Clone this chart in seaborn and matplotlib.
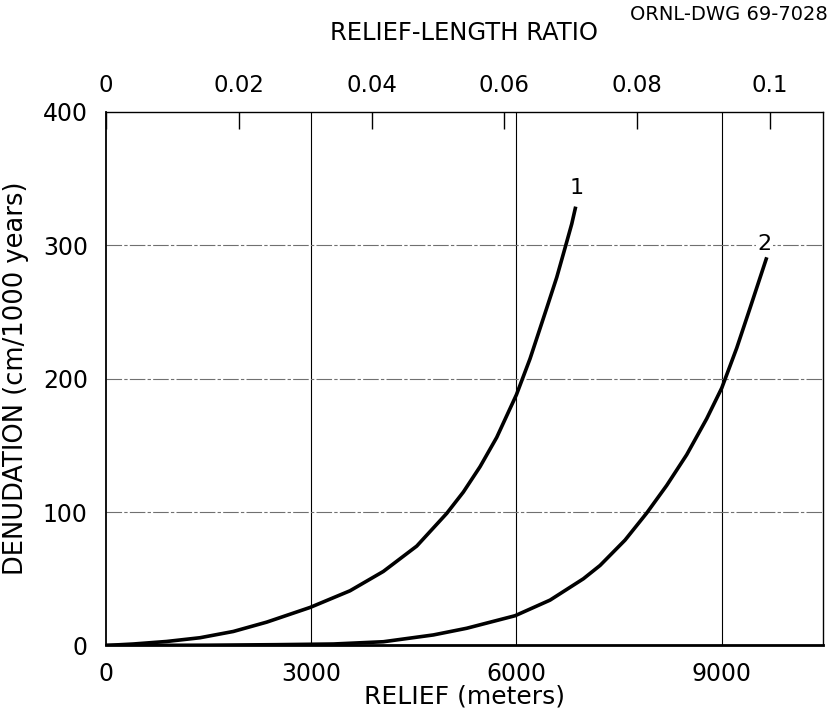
import matplotlib
matplotlib.use("Agg")
import matplotlib.pyplot as plt
import seaborn as sns
import pandas as pd

# Curve 1 (relief in m, denudation in cm/1000 yr)
relief_1 = [0, 402, 889, 1376, 1863, 2351, 2984, 3568, 4055, 4543, 4981,
            5224, 5468, 5712, 6000, 6199, 6443, 6589, 6710, 6808, 6866]
denud_1 = [0, 1.1, 3.0, 5.8, 10.5, 17.5, 28.5, 41, 55.5, 74.5, 99,
           115, 134, 156, 188, 215, 253, 276, 298, 316, 329]
# Curve 2
relief_2 = [0, 1500, 2500, 3325, 4055, 4786, 5273, 5980, 6491, 6978, 7222, 7587,
            7904, 8196, 8488, 8780, 9000, 9219, 9414, 9658]
denud_2 = [0, 0.2, 0.6, 1.1, 2.8, 7.9, 12.9, 22.3, 34, 50, 60, 79,
           99.3, 120, 143, 170, 193, 223, 253, 291]

x_ticks = [0, 3000, 6000, 9000]
y_ticks = [0, 100, 200, 300, 400]
top_ticks = [0, 0.02, 0.04, 0.06, 0.08, 0.1]
top_labels = ["0", "0.02", "0.04", "0.06", "0.08", "0.1"]
curve_labels = ["1", "2"]
label_pos_relief = [6885, 9630]
label_pos_denud = [343, 301]

XMAX = 10480
RATIO_SCALE = 97060  # relief (m) corresponding to ratio 1

sns.set_style("white")
plt.rcParams['font.family'] = ['DejaVu Sans']
plt.rcParams['text.color'] = 'black'
plt.rcParams['axes.labelcolor'] = 'black'
plt.rcParams['xtick.color'] = 'black'
plt.rcParams['ytick.color'] = 'black'

fig = plt.figure(figsize=(8.3, 7.16), dpi=100)
ax = fig.add_axes([0.1275, 0.0985, 0.8641, 0.7452])

df1 = pd.DataFrame({"relief": relief_1, "denud": denud_1})
df2 = pd.DataFrame({"relief": relief_2, "denud": denud_2})
for d in (df1, df2):
    sns.lineplot(data=d, x="relief", y="denud", ax=ax, color="black", lw=2.6,
                 estimator=None, sort=False, solid_joinstyle="round",
                 solid_capstyle="butt")

ax.set_xlim(0, XMAX)
ax.set_ylim(0, 400)
ax.set_xticks(x_ticks)
ax.set_yticks(y_ticks)
ax.set_xticklabels([str(v) for v in x_ticks], fontsize=17)
ax.set_yticklabels([str(v) for v in y_ticks], fontsize=17)
ax.tick_params(axis="x", direction="in", length=0, pad=12)
ax.tick_params(axis="y", direction="in", length=0, pad=13)

# grid lines
for v in x_ticks[1:]:
    ax.axvline(v, color="black", lw=0.8, zorder=0)
for v in y_ticks[1:-1]:
    ax.axhline(v, color="#707070", lw=0.8, ls=(0, (14, 2, 3, 2)), zorder=0)

ax.set_xlabel("RELIEF (meters)", fontsize=18, labelpad=-1)
ax.set_ylabel("DENUDATION (cm/1000 years)", fontsize=18.5, labelpad=10)

for s in ax.spines.values():
    s.set_color("black")
    s.set_linewidth(1.0)
ax.spines["bottom"].set_linewidth(2.0)
ax.spines["left"].set_linewidth(1.3)

# top axis: relief-length ratio
ax2 = ax.twiny()
ax2.set_xlim(0, XMAX / RATIO_SCALE)
ax2.set_xticks(top_ticks)
ax2.set_xticklabels(top_labels, fontsize=16.5)
ax2.tick_params(axis="x", direction="in", length=12, width=1.0, pad=11, color="black")
ax2.set_xlabel("RELIEF-LENGTH RATIO", fontsize=17.5, labelpad=24)
ax2.grid(False)
for s in ax2.spines.values():
    s.set_visible(False)

# curve labels
ax.text(label_pos_relief[0], label_pos_denud[0], curve_labels[0], fontsize=16,
        ha="center", va="center")
ax.text(label_pos_relief[1], label_pos_denud[1], curve_labels[1], fontsize=16,
        ha="center", va="center",
        bbox=dict(facecolor="white", edgecolor="none", pad=1))

fig.text(0.997, 0.993, "ORNL-DWG 69-7028", fontsize=14, ha="right", va="top")

fig.savefig("out.png", dpi=100, facecolor="white")
